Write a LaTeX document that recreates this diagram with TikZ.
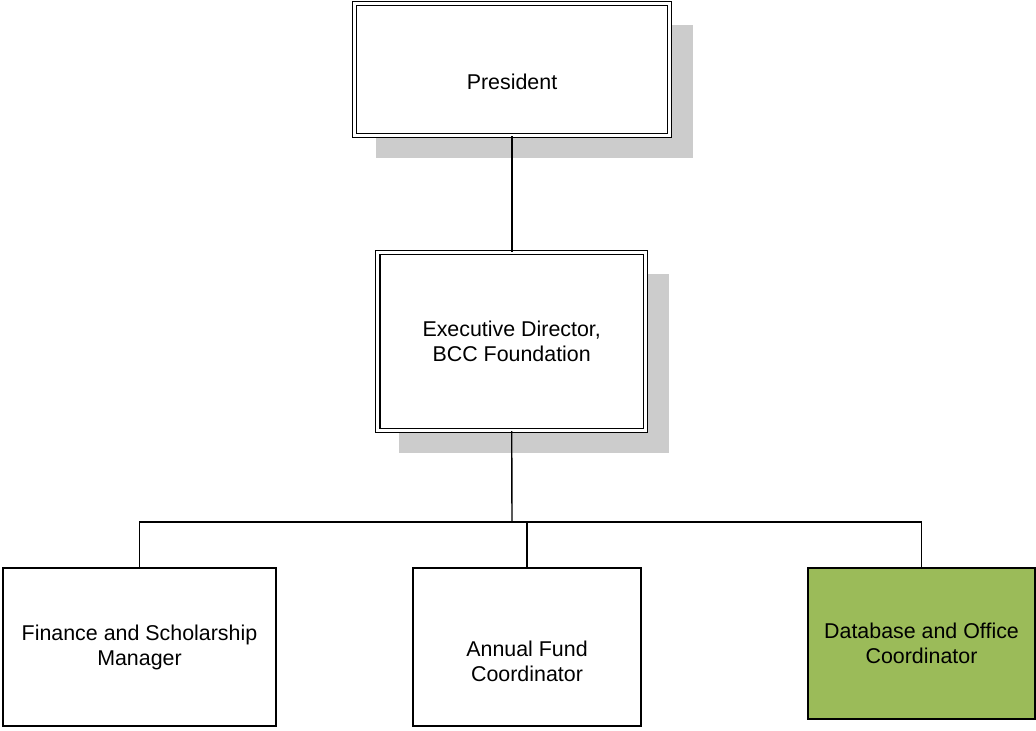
\documentclass[tikz,border=0pt]{standalone}
\usepackage{fontspec}
\setmainfont{Liberation Sans}
\usetikzlibrary{shadows}
\definecolor{dbgreen}{HTML}{9BBB59}
\tikzset{
  box/.style={draw, line width=0.75pt, inner sep=0pt},
  headbox/.style={box, double, double distance=1.5pt, line width=0.6pt, fill=white,
    drop shadow={shadow xshift=11pt, shadow yshift=-11pt, shadow scale=1.008, fill=black!20, opacity=1}},
  txt/.style={align=center, font=\fontsize{10.7}{12.5}\selectfont},
  link/.style={draw, line width=0.7pt}
}
\begin{document}
\begin{tikzpicture}[x=0.5pt, y=-0.5pt]
\useasboundingbox (0,0) rectangle (1036,731);

% boxes
\node[headbox, minimum width=157.25pt, minimum height=66pt] (pres) at (512,69.5) {};
\node[headbox, minimum width=133.75pt, minimum height=89pt] (exec) at (511.7,341.5) {};
\node[box, minimum width=136.5pt, minimum height=79pt] (fin) at (139.5,647) {};
\node[box, minimum width=114pt, minimum height=79pt] (fund) at (527,647) {};
\node[box, fill=dbgreen, minimum width=113.5pt, minimum height=75.5pt] (db) at (921.5,643.5) {};

% texts
\node[txt] (pres-t) at (512,82) {President};
\node[txt] (exec-t) at (exec) {Executive Director,\\BCC Foundation};
\node[txt] (fin-t) at (fin) {Finance and Scholarship\\Manager};
\node[txt] (fund-t) at (527,661) {Annual Fund\\Coordinator};
\node[txt] (db-t) at (db) {Database and Office\\Coordinator};

% links
\coordinate (bus) at (512,522);
\path[link] (pres.south) -- (pres.south |- exec.north);
\path[link] (exec.south) -- (bus);
\path[link] (bus) -| (fin.north);
\path[link] (bus) -| (fund.north);
\path[link] (bus) -| (db.north);
\end{tikzpicture}
\end{document}
